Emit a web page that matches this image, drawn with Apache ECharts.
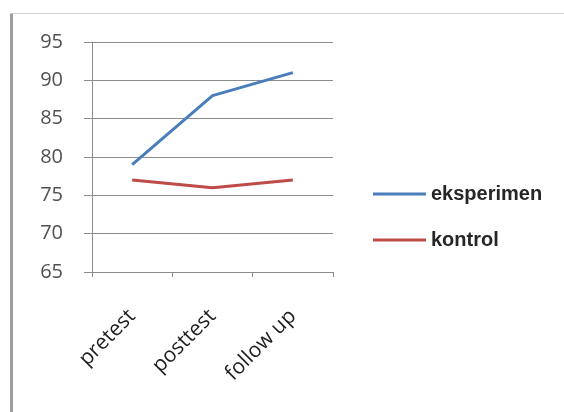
<!DOCTYPE html>
<html>
<head>
<meta charset="utf-8">
<script src="https://cdn.jsdelivr.net/npm/echarts@6/dist/echarts.min.js"></script>
<style>
  html, body { margin: 0; padding: 0; background: #ffffff; }
  #chart { width: 564px; height: 412px; }
</style>
</head>
<body>
<div id="chart"></div>
<script>
// Test phases on the horizontal axis
const categories = ['pretest', 'posttest', 'follow up'];
// Mean scores per group
const eksperimen = [79, 88, 91];
const kontrol = [77, 76, 77];
// Value axis range
const yMin = 65;
const yMax = 95;
const yStep = 5;

const chart = echarts.init(document.getElementById('chart'), null, { renderer: 'canvas' });

chart.setOption({
  backgroundColor: '#ffffff',
  animation: false,
  graphic: [
    // frame: left edge and top edge
    { type: 'rect', shape: { x: 10, y: 13, width: 3, height: 399 }, style: { fill: '#9c9c9c' }, silent: true },
    { type: 'rect', shape: { x: 10, y: 13, width: 554, height: 1 }, style: { fill: '#cfcfcf' }, silent: true }
  ],
  grid: { left: 92, right: 231, top: 42, bottom: 140, containLabel: false },
  legend: {
    orient: 'vertical',
    left: 368,
    top: 179,
    itemWidth: 53,
    itemHeight: 3,
    itemGap: 26,
    icon: 'rect',
    textStyle: { fontFamily: 'Liberation Sans', fontSize: 20, fontWeight: 'bold', color: '#262626', lineHeight: 20 },
    data: ['eksperimen', 'kontrol']
  },
  xAxis: {
    type: 'category',
    data: categories,
    boundaryGap: true,
    axisLine: { lineStyle: { color: '#8c8c8c', width: 1 } },
    axisTick: { show: true, length: 5, lineStyle: { color: '#8c8c8c' } },
    axisLabel: {
      rotate: 45,
      margin: 41,
      fontFamily: 'Open Sans',
      fontSize: 21,
      color: '#1f1f1f'
    }
  },
  yAxis: {
    type: 'value',
    min: yMin,
    max: yMax,
    interval: yStep,
    axisLine: { show: true, lineStyle: { color: '#8c8c8c', width: 1 } },
    axisTick: { show: true, length: 8, lineStyle: { color: '#8c8c8c' } },
    splitLine: { show: true, lineStyle: { color: '#8c8c8c', width: 1 } },
    axisLabel: { margin: 29, fontFamily: 'Open Sans', fontSize: 20, color: '#505050' }
  },
  series: [
    {
      name: 'eksperimen',
      type: 'line',
      data: eksperimen,
      symbol: 'none',
      lineStyle: { color: '#4a7ebb', width: 3 },
      itemStyle: { color: '#4a7ebb' }
    },
    {
      name: 'kontrol',
      type: 'line',
      data: kontrol,
      symbol: 'none',
      lineStyle: { color: '#be4b48', width: 3 },
      itemStyle: { color: '#be4b48' }
    }
  ]
});
</script>
</body>
</html>
